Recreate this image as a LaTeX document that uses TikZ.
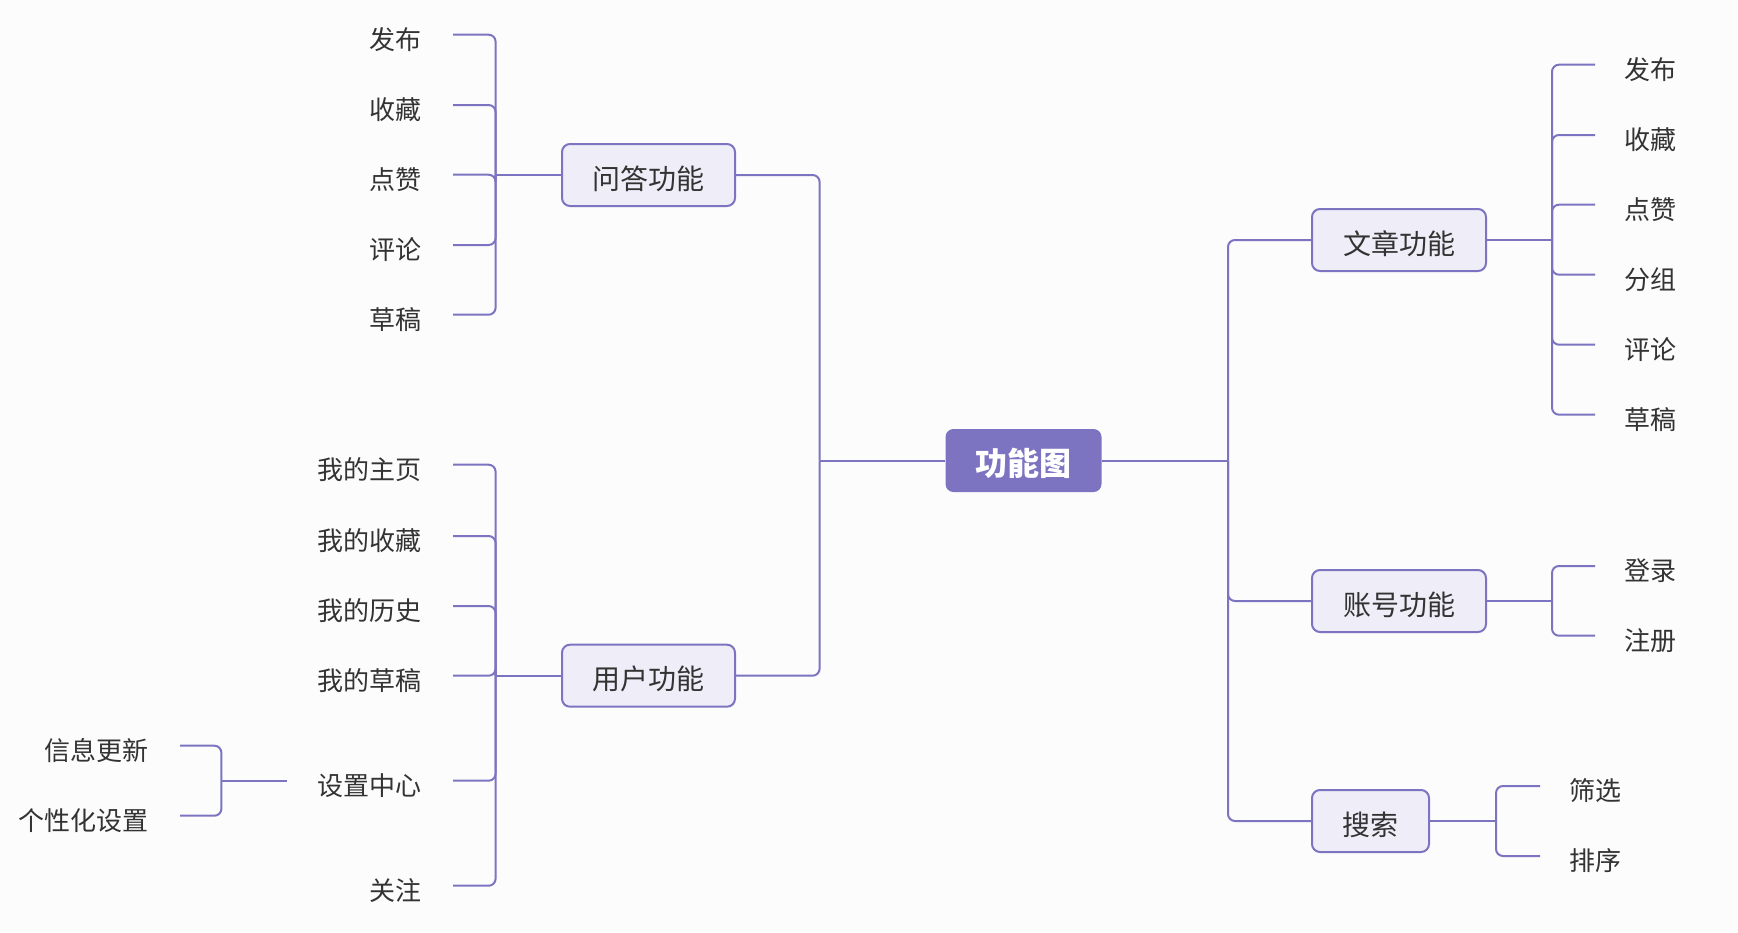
\documentclass[tikz,border=0pt]{standalone}
\usepackage{fontspec}
\setmainfont{Noto Sans CJK SC}
\definecolor{lc}{HTML}{7C74C1}
\definecolor{boxfill}{HTML}{EFEEF8}
\definecolor{bgc}{HTML}{FCFCFC}
\definecolor{txt}{HTML}{333333}
\tikzset{
  conn/.style={draw=lc, line width=2pt, rounded corners=7pt},
  subbox/.style={draw=lc, line width=2pt, fill=boxfill, rounded corners=8pt,
    inner xsep=30pt, inner ysep=0pt, minimum height=62pt, text=txt,
    text height=30pt, text depth=2pt,
    font=\fontsize{28}{32}\selectfont},
  rootbox/.style={fill=lc, rounded corners=8pt, inner xsep=30pt, inner ysep=0pt,
    minimum height=63pt, text=white, text height=31pt, text depth=1.6pt,
    font=\fontsize{32}{36}\selectfont\bfseries},
  lleaf/.style={anchor=east, inner xsep=31pt, inner ysep=0pt, text=txt,
    font=\fontsize{26}{30}\selectfont},
  rleaf/.style={anchor=west, inner xsep=29pt, inner ysep=0pt, text=txt,
    font=\fontsize{26}{30}\selectfont}
}
\begin{document}
\begin{tikzpicture}[x=1pt,y=-1pt]
\fill[bgc] (0,0) rectangle (1738,932);
\useasboundingbox (0,0) rectangle (1738,932);
\def\dy{4.5}
% main nodes
\node[rootbox] (root) at (1023.5,460.5) {功能图};
\node[subbox, minimum width=173pt] (qa) at (648.5,175) {问答功能};
\node[subbox, minimum width=173pt] (user) at (648.5,675.7) {用户功能};
\node[subbox, minimum width=174pt] (art) at (1399,240) {文章功能};
\node[subbox, minimum width=174pt] (acc) at (1399,601) {账号功能};
\node[subbox, minimum width=117pt] (srch) at (1370.5,821) {搜索};
% qa leaves
\node[lleaf] (q1) at (453,34.7+\dy) {发布};
\node[lleaf] (q2) at (453,105+\dy) {收藏};
\node[lleaf] (q3) at (453,174.7+\dy) {点赞};
\node[lleaf] (q4) at (453,245+\dy) {评论};
\node[lleaf] (q5) at (453,314.7+\dy) {草稿};
% user leaves
\node[lleaf] (u1) at (453,464.7+\dy) {我的主页};
\node[lleaf] (u2) at (453,536+\dy) {我的收藏};
\node[lleaf] (u3) at (453,606+\dy) {我的历史};
\node[lleaf] (u4) at (453,675.7+\dy) {我的草稿};
\node[lleaf] (u5) at (453,780.7+\dy) {设置中心};
\node[lleaf] (u6) at (453,885.7+\dy) {关注};
% settings leaves
\node[lleaf] (s1) at (180,745.7+\dy) {信息更新};
\node[lleaf] (s2) at (180,815.7+\dy) {个性化设置};
% article leaves
\node[rleaf] (a1) at (1595,64.7+\dy) {发布};
\node[rleaf] (a2) at (1595,135+\dy) {收藏};
\node[rleaf] (a3) at (1595,204.7+\dy) {点赞};
\node[rleaf] (a4) at (1595,274.7+\dy) {分组};
\node[rleaf] (a5) at (1595,344.7+\dy) {评论};
\node[rleaf] (a6) at (1595,414.7+\dy) {草稿};
% account leaves
\node[rleaf] (c1) at (1595,566+\dy) {登录};
\node[rleaf] (c2) at (1595,635.7+\dy) {注册};
% search leaves
\node[rleaf] (f1) at (1540,786+\dy) {筛选};
\node[rleaf] (f2) at (1540,856+\dy) {排序};
% bracket coordinates
\coordinate (qab) at (495.6,175);
\coordinate (ub) at (495.6,675.7);
\coordinate (sb) at (221.4,780.7);
\coordinate (lb) at (819.6,460.5);
\coordinate (rb) at (1228,460.5);
\coordinate (ab) at (1552,240);
\coordinate (cb) at (1552,601);
\coordinate (fb) at (1496,821);
% left main
\draw[conn] (qa.east) -| (lb);
\draw[conn] (user.east) -| (lb);
\draw[conn] (lb) -- (root.west);
% right main
\draw[conn] (root.east) -- (rb);
\draw[conn] (rb) |- (art.west);
\draw[conn] (rb) |- (acc.west);
\draw[conn] (rb) |- (srch.west);
% qa
\foreach \n in {q1,q2,q3,q4,q5} \draw[conn] ([yshift=\dy pt]\n.east) -| (qab);
\draw[conn] (qab) -- (qa.west);
% user
\foreach \n in {u1,u2,u3,u4,u5,u6} \draw[conn] ([yshift=\dy pt]\n.east) -| (ub);
\draw[conn] (ub) -- (user.west);
% settings
\foreach \n in {s1,s2} \draw[conn] ([yshift=\dy pt]\n.east) -| (sb);
\draw[conn] (sb) -- ([yshift=\dy pt]u5.west);
% article
\draw[conn] (art.east) -- (ab);
\foreach \n in {a1,a2,a3,a4,a5,a6} \draw[conn] (ab) |- ([yshift=\dy pt]\n.west);
% account
\draw[conn] (acc.east) -- (cb);
\foreach \n in {c1,c2} \draw[conn] (cb) |- ([yshift=\dy pt]\n.west);
% search
\draw[conn] (srch.east) -- (fb);
\foreach \n in {f1,f2} \draw[conn] (fb) |- ([yshift=\dy pt]\n.west);
\end{tikzpicture}
\end{document}
